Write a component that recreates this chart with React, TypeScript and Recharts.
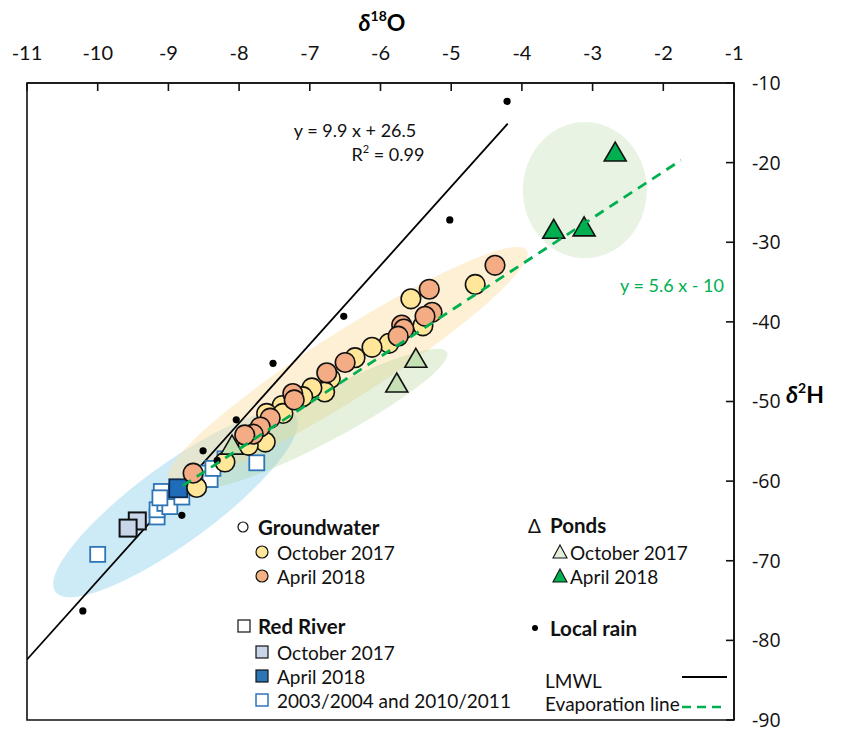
import { ScatterChart, Scatter, XAxis, YAxis, ReferenceArea } from "recharts";

type Pt = { x: number; y: number };
const toPts = (arr: number[][]): Pt[] => arr.map(([x, y]) => ({ x, y }));

const xTicks = [-11, -10, -9, -8, -7, -6, -5, -4, -3, -2, -1];
const yTicks = [-90, -80, -70, -60, -50, -40, -30, -20, -10];

// groundwater
const gwOct = toPts([
  [-4.66, -35.3], [-5.57, -37.1], [-5.4, -40.5], [-5.88, -42.7], [-6.12, -43.2],
  [-6.36, -44.5], [-6.71, -47.1], [-6.79, -48.8], [-6.97, -48.3], [-7.1, -49.4],
  [-7.39, -50.5], [-7.61, -51.5], [-7.38, -51.5], [-7.63, -55.1], [-7.87, -55.5],
  [-8.2, -57.6], [-8.6, -60.8],
]);
const gwApr = toPts([
  [-4.38, -32.9], [-5.31, -35.9], [-5.27, -38.8], [-5.37, -39.3], [-5.7, -40.4],
  [-5.67, -40.9], [-5.75, -41.8], [-6.5, -45.1], [-6.76, -46.4], [-7.24, -49.0],
  [-7.22, -49.8], [-7.56, -52.1], [-7.7, -53.2], [-7.8, -54.1], [-7.92, -54.2],
  [-8.65, -59.0],
]);

// ponds
const pondOct = toPts([[-5.5, -44.7], [-5.77, -47.8], [-8.1, -55.6]]);
const pondApr = toPts([[-2.68, -18.8], [-3.55, -28.5], [-3.12, -28.2]]);

// Red River
const riverOct = toPts([[-9.44, -65.0], [-9.57, -65.9]]);
const riverApr = toPts([[-8.86, -60.9]]);
const riverHist = toPts([
  [-10.0, -69.2], [-9.16, -64.5], [-9.16, -63.6], [-9.05, -62.8], [-8.98, -63.2],
  [-9.1, -61.3], [-9.12, -62.1], [-8.81, -62.0], [-8.55, -59.0], [-8.41, -59.8],
  [-8.37, -58.4], [-8.2, -57.2], [-7.75, -57.7],
]);

// local rain
const rain = toPts([
  [-4.21, -12.3], [-5.02, -27.2], [-6.52, -39.3], [-7.52, -45.2], [-8.04, -52.3],
  [-8.51, -56.2], [-8.31, -57.4], [-8.81, -64.3], [-10.21, -76.3],
]);

// lines (end points)
const lmwl = toPts([[-11, -82.4], [-4.2, -15.1]]);
const evapLine = toPts([[-8.8, -60.6], [-1.75, -19.7]]);

// shaded groups: ends of the long axis
const blueZone = toPts([[-10.6, -73.9], [-7.2, -51.8]]);
const yellowZone = toPts([[-9.0, -59.8], [-3.93, -31.0]]);
const greenZone = toPts([[-8.62, -60.5], [-5.06, -43.8]]);
const pondZone = toPts([[-3.11, -14.9], [-3.11, -32.0]]);

const FONT = "Lato, 'Open Sans', sans-serif";
const GREEN = "#00B050";

const none = () => <g />;

const ellipse = (fill: string, opacity: number, half: number) => (p: any) => {
  const [a, b] = p.points;
  const cx = (a.x + b.x) / 2;
  const cy = (a.y + b.y) / 2;
  const rx = Math.hypot(b.x - a.x, b.y - a.y) / 2;
  const ang = (Math.atan2(b.y - a.y, b.x - a.x) * 180) / Math.PI;
  return (
    <ellipse cx={cx} cy={cy} rx={rx} ry={half} fill={fill} fillOpacity={opacity}
      transform={`rotate(${ang} ${cx} ${cy})`} />
  );
};

const circle = (fill: string) => (p: any) =>
  <circle cx={p.cx} cy={p.cy} r={9.8} fill={fill} stroke="#111" strokeWidth={1.6} />;

const square = (fill: string, stroke: string, size: number, sw: number) => (p: any) =>
  <rect x={p.cx - size / 2} y={p.cy - size / 2} width={size} height={size} fill={fill} stroke={stroke} strokeWidth={sw} />;

const triangle = (fill: string) => (p: any) =>
  <path d={`M${p.cx},${p.cy - 11}L${p.cx + 11},${p.cy + 8}L${p.cx - 11},${p.cy + 8}Z`} fill={fill} stroke="#111" strokeWidth={1.6} />;

const dot = (p: any) => <circle cx={p.cx} cy={p.cy} r={3.6} fill="#000" />;

function Legend() {
  const t = { fontFamily: FONT, fontSize: 19, fill: "#111", dominantBaseline: "central" as const };
  const b = { ...t, fontSize: 20.5, fontWeight: 700 };
  return (
    <svg width={847} height={733} style={{ position: "absolute", left: 0, top: 0, pointerEvents: "none" }}>
      {/* axis titles */}
      <text x={382} y={22} textAnchor="middle" fontFamily={FONT} fontSize={23} fontWeight={700} dominantBaseline="central">
        <tspan fontStyle="italic">δ</tspan><tspan fontSize={14} dy={-7}>18</tspan><tspan dy={7}>O</tspan>
      </text>
      <text x={786} y={394} fontFamily={FONT} fontSize={23} fontWeight={700} dominantBaseline="central">
        <tspan fontStyle="italic">δ</tspan><tspan fontSize={14} dy={-7}>2</tspan><tspan dy={7}>H</tspan>
      </text>

      {/* fit labels */}
      <text x={355} y={130} textAnchor="middle" fontFamily={FONT} fontSize={18} fill="#111" dominantBaseline="central">y = 9.9 x + 26.5</text>
      <text x={388} y={154} textAnchor="middle" fontFamily={FONT} fontSize={18} fill="#111" dominantBaseline="central">
        R<tspan fontSize={11} dy={-6}>2</tspan><tspan dy={6}> = 0.99</tspan>
      </text>
      <text x={672} y={285} textAnchor="middle" fontFamily={FONT} fontSize={18} fill={GREEN} dominantBaseline="central">y = 5.6 x - 10</text>

      {/* groundwater */}
      <circle cx={243} cy={527} r={5} fill="#fff" stroke="#111" strokeWidth={1.2} />
      <text x={258} y={527} {...b}>Groundwater</text>
      <circle cx={262} cy={552} r={6} fill="#FFE699" stroke="#111" strokeWidth={1.2} />
      <text x={277} y={552} {...t}>October 2017</text>
      <circle cx={262} cy={576} r={6} fill="#F4B183" stroke="#111" strokeWidth={1.2} />
      <text x={277} y={576} {...t}>April 2018</text>

      {/* red river */}
      <rect x={238} y={620} width={12} height={12} fill="#fff" stroke="#111" strokeWidth={1.2} />
      <text x={258} y={626} {...b}>Red River</text>
      <rect x={256} y={646} width={12} height={12} fill="#C9D6EA" stroke="#111" strokeWidth={1.2} />
      <text x={277} y={652} {...t}>October 2017</text>
      <rect x={256} y={670} width={12} height={12} fill="#2E75B6" stroke="#111" strokeWidth={1.2} />
      <text x={277} y={676} {...t}>April 2018</text>
      <rect x={256} y={694} width={12} height={12} fill="#fff" stroke="#2E75B6" strokeWidth={1.5} />
      <text x={277} y={700} {...t}>2003/2004 and 2010/2011</text>

      {/* ponds */}
      <text x={528} y={525} {...t}>Δ</text>
      <text x={550} y={525} {...b}>Ponds</text>
      <path d="M560,545L567,558L553,558Z" fill="#E2EFDA" stroke="#111" strokeWidth={1.1} />
      <text x={570} y={552} {...t}>October 2017</text>
      <path d="M560,569L567,582L553,582Z" fill={GREEN} stroke="#111" strokeWidth={1.1} />
      <text x={570} y={576} {...t}>April 2018</text>

      {/* rain */}
      <circle cx={535} cy={628} r={3} fill="#000" />
      <text x={550} y={628} {...b}>Local rain</text>

      {/* lines */}
      <text x={545} y={680} {...t}>LMWL</text>
      <line x1={682} x2={727} y1={677} y2={677} stroke="#000" strokeWidth={2} />
      <text x={545} y={703} {...t}>Evaporation line</text>
      <line x1={682} x2={727} y1={707} y2={707} stroke={GREEN} strokeWidth={2.5} strokeDasharray="9 6" />
    </svg>
  );
}

export default function App() {
  return (
    <div style={{ position: "absolute", left: 0, top: 0, width: 847, height: 733, background: "#fff" }}>
      <ScatterChart width={847} height={733} margin={{ top: 43, right: 53, bottom: 13, left: 27 }}>
        <XAxis
          type="number" dataKey="x" orientation="top" domain={[-11, -1]} ticks={xTicks}
          interval={0} allowDataOverflow height={40} tickSize={-8} tickMargin={31}
          tick={{ fontFamily: FONT, fontSize: 20, fill: "#111" }}
          axisLine={{ stroke: "#111", strokeWidth: 1.6 }} tickLine={{ stroke: "#111", strokeWidth: 1.6 }}
        />
        <YAxis
          type="number" dataKey="y" orientation="right" domain={[-90, -10]} ticks={yTicks}
          interval={0} allowDataOverflow width={60} tickSize={-8} tickMargin={26}
          tick={{ fontFamily: "'Open Sans', sans-serif", fontSize: 19.5, fill: "#111", textAnchor: "start" }}
          axisLine={{ stroke: "#111", strokeWidth: 1.6 }} tickLine={{ stroke: "#111", strokeWidth: 1.6 }}
        />

        <Scatter data={blueZone} shape={none} line={ellipse("#9BD5F0", 0.5, 39)} isAnimationActive={false} />
        <Scatter data={yellowZone} shape={none} line={ellipse("#FCE2AC", 0.5, 33)} isAnimationActive={false} />
        <Scatter data={greenZone} shape={none} line={ellipse("#A9D08E", 0.3, 24)} isAnimationActive={false} />
        <Scatter data={pondZone} shape={none} line={ellipse("#A9D08E", 0.25, 62)} isAnimationActive={false} />

        <ReferenceArea x1={-11} x2={-1} y1={-90} y2={-10} fill="none" stroke="#111" strokeWidth={1.6} ifOverflow="visible" />

        <Scatter data={lmwl} shape={none} line={{ stroke: "#000", strokeWidth: 1.8 }} lineType="joint" isAnimationActive={false} />

        <Scatter data={riverHist} shape={square("#fff", "#2E75B6", 15, 1.8)} isAnimationActive={false} />
        <Scatter data={riverOct} shape={square("#C9D6EA", "#111", 17, 2)} isAnimationActive={false} />
        <Scatter data={riverApr} shape={square("#1F6CB8", "#0d2b52", 18, 1.8)} isAnimationActive={false} />

        <Scatter data={gwOct} shape={circle("#FFE699")} isAnimationActive={false} />
        <Scatter data={gwApr} shape={circle("#F4AC84")} isAnimationActive={false} />

        <Scatter data={pondOct} shape={triangle("#C5E0B4")} isAnimationActive={false} />
        <Scatter data={pondApr} shape={triangle(GREEN)} isAnimationActive={false} />

        <Scatter data={rain} shape={dot} isAnimationActive={false} />

        <Scatter data={evapLine} shape={none} line={{ stroke: GREEN, strokeWidth: 2.8, strokeDasharray: "10 7" }} lineType="joint" isAnimationActive={false} />
      </ScatterChart>
      <Legend />
    </div>
  );
}
